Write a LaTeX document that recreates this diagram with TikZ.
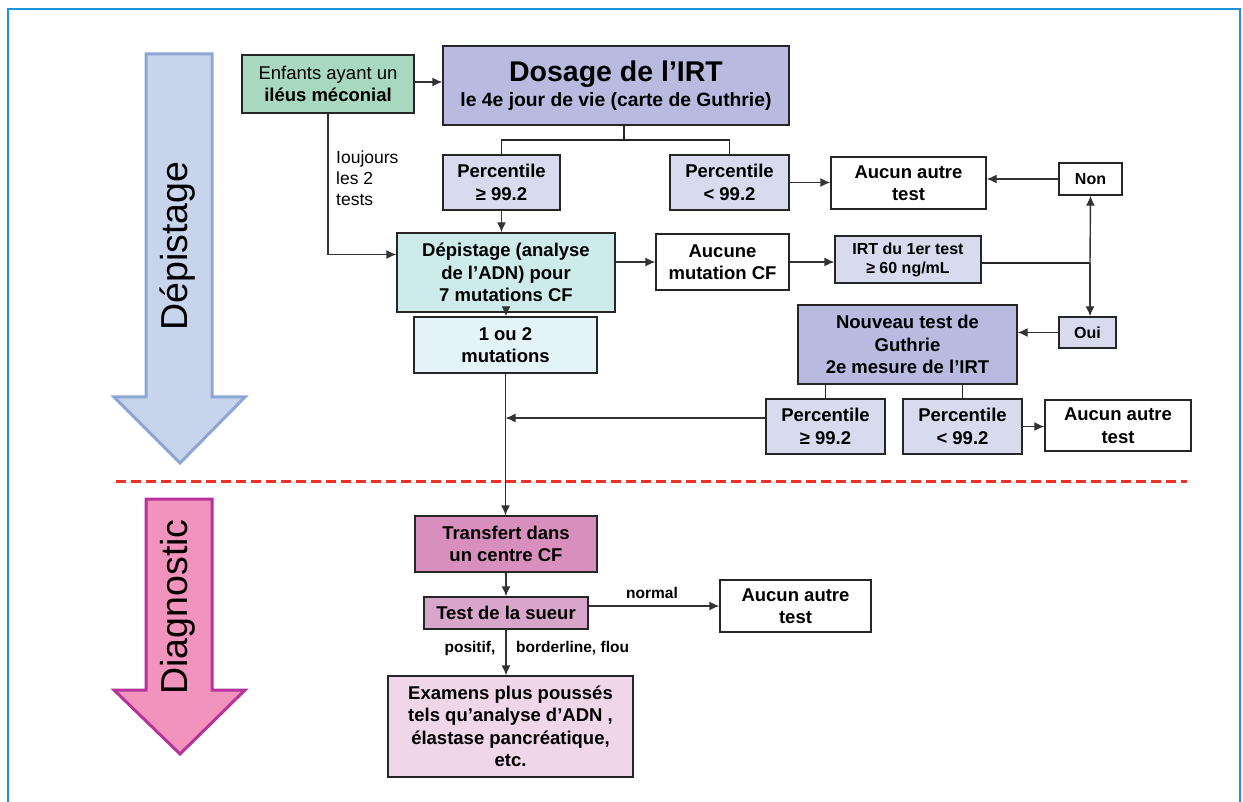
\documentclass[tikz,border=0pt]{standalone}
\usepackage{fontspec}
\setmainfont{Liberation Sans}
\usepackage{tikz}
\usepackage{xcolor}
\usetikzlibrary{calc,arrows.meta}

\definecolor{frameblue}{HTML}{2090D8}
\definecolor{vertenf}{HTML}{A8D8BE}
\definecolor{lavande}{HTML}{B8BADF}
\definecolor{lavclair}{HTML}{D8DAEE}
\definecolor{turquoise}{HTML}{CDEBEB}
\definecolor{cyanclair}{HTML}{E3F3F7}
\definecolor{rosefort}{HTML}{D88FBD}
\definecolor{rosemoyen}{HTML}{D8A5CB}
\definecolor{roseclair}{HTML}{EFD6E8}
\definecolor{bleuarrow}{HTML}{C8D4EC}
\definecolor{bleubord}{HTML}{8EA6D6}
\definecolor{rosearrow}{HTML}{F293BD}
\definecolor{rosebord}{HTML}{B5339A}
\definecolor{rouge}{HTML}{EE3124}

\newcommand{\txtbig}{\fontsize{28.5}{30}\selectfont\bfseries}
\newcommand{\txtbody}{\fontsize{18.5}{22.5}\selectfont\bfseries}
\newcommand{\txtsmall}{\fontsize{16}{19}\selectfont\bfseries}
\newcommand{\txtlabel}{\fontsize{15.5}{18}\selectfont\bfseries}

\begin{document}
\begin{tikzpicture}[x=1pt,y=-1pt,
    box/.style={draw=black!85,line width=1.4pt,inner sep=0pt,align=center,font=\txtbody},
    arr/.style={draw=black!80,line width=1.4pt,-{Latex[length=10pt,width=9pt]}},
    lien/.style={draw=black!85,line width=1.6pt}]
        \useasboundingbox (0,0) rectangle (1243,802);
        % frame
        \draw[frameblue,line width=2pt] (8,810) -- (8,9) -- (1240,9) -- (1240,810);
        % big arrows
        \draw[fill=bleuarrow,draw=bleubord,line width=3pt] (146,54) -- (212,54) -- (212,397) -- (245,397)
            -- (180,463) -- (114,397) -- (146,397) -- cycle;
        \draw[fill=rosearrow,draw=rosebord,line width=3pt] (146,499) -- (212,499) -- (212,690) -- (245,690)
            -- (180,754) -- (114,690) -- (146,690) -- cycle;
        \node[rotate=90,font=\fontsize{37.5}{40}\selectfont] (lbldep) at (178,246) {Dépistage};
        \node[rotate=90,font=\fontsize{37.5}{40}\selectfont] (lbldiag) at (178,607) {Diagnostic};
        \draw[rouge,line width=3pt,dash pattern=on 10pt off 5pt] (116,481) -- (1187,481);
        % boxes
        \node[box,fill=vertenf,minimum width=172,minimum height=58,font=\fontsize{18.5}{22.5}\selectfont] (enf) at (328,84)
            {Enfants ayant un\\\textbf{iléus méconial}};
        \node[box,fill=lavande,minimum width=346,minimum height=79] (irt) at (616,85.5)
            {{\txtbig Dosage de l’IRT}\\[3pt]{\fontsize{19.3}{22}\selectfont le 4e jour de vie (carte de Guthrie)}};
        \node[box,fill=lavclair,minimum width=117,minimum height=55] (p1) at (501.5,182.5) {Percentile\\≥ 99.2};
        \node[box,fill=lavclair,minimum width=119,minimum height=55] (p2) at (729.5,182.5) {Percentile\\< 99.2};
        \node[box,fill=white,minimum width=155,minimum height=52] (a1) at (908.5,183) {Aucun autre\\test};
        \node[box,fill=white,minimum width=63,minimum height=32,font=\txtsmall] (non) at (1090.5,179) {Non};
        \node[box,fill=turquoise,minimum width=218,minimum height=79] (dep) at (506,272.5)
            {Dépistage (analyse\\de l’ADN) pour\\7 mutations CF};
        \node[box,fill=white,minimum width=133,minimum height=56] (am) at (722.5,262) {Aucune\\mutation CF};
        \node[box,fill=lavclair,minimum width=146,minimum height=47,font=\txtsmall] (irt1) at (908,259.5)
            {IRT du 1er test\\≥ 60 ng/mL};
        \node[box,fill=lavclair,minimum width=57,minimum height=31,font=\txtsmall] (oui) at (1087.5,332.5) {Oui};
        \node[box,fill=lavande,minimum width=219,minimum height=79] (nouv) at (907.5,344.5)
            {Nouveau test de\\Guthrie\\2e mesure de l’IRT};
        \node[box,fill=cyanclair,minimum width=183,minimum height=56] (mut) at (505.5,345) {1 ou 2\\mutations};
        \node[box,fill=lavclair,minimum width=119,minimum height=55] (p3) at (825.5,426.5) {Percentile\\≥ 99.2};
        \node[box,fill=lavclair,minimum width=119,minimum height=55] (p4) at (962.5,426.5) {Percentile\\< 99.2};
        \node[box,fill=white,minimum width=146,minimum height=51] (a2) at (1118,425.5) {Aucun autre\\test};
        \node[box,fill=rosefort,minimum width=182,minimum height=56] (tr) at (506,544) {Transfert dans\\un centre CF};
        \node[box,fill=rosemoyen,minimum width=164,minimum height=32] (sue) at (506,613) {Test de la sueur};
        \node[box,fill=white,minimum width=151,minimum height=52] (a3) at (795.5,606) {Aucun autre\\test};
        \node[box,fill=roseclair,minimum width=245,minimum height=101] (exa) at (510.5,726.5)
            {Examens plus poussés\\tels qu’analyse d’ADN ,\\élastase pancréatique,\\etc.};
        % labels
        \node[anchor=west,align=left,inner sep=0pt,font=\fontsize{17.5}{21}\selectfont] (lbltous) at (336,178)
            {Ioujours\\les 2\\tests};
        \node[inner sep=0pt,font=\txtlabel] (lblnorm) at (652,593) {normal};
        \node[inner sep=0pt,font=\txtlabel] (lblpos) at (470,648) {positif,};
        \node[anchor=west,inner sep=0pt,font=\txtlabel] (lblbord) at (516,648) {borderline, flou};
        % connectors
        \coordinate (split) at (624,140);
        \coordinate (jn) at (1090,263);
        \draw[arr] (enf.east |- 0,82) -- (irt.west |- 0,82);
        \draw[lien] (split |- irt.south) -- (split);
        \draw[lien] (p1.north) |- (split) -| (p2.north);
        \draw[arr] (p2.east) -- (p2.east -| a1.west);
        \draw[arr] (non.west) -- (non.west -| a1.east);
        \draw[arr] (p1.south) -- (p1.south |- dep.north);
        \draw[arr] (enf.south) |- ($(dep.west)+(0,-18)$);
        \draw[arr] (dep.east |- am.west) -- (am.west);
        \draw[arr] (am.east) -- (am.east -| irt1.west);
        \draw[lien,line width=2.6pt] (irt1.east |- jn) -- (jn);
        \draw[arr] (jn) -- (non.south);
        \draw[arr] (jn) -- (jn |- oui.north);
        \draw[arr] (oui.west) -- (oui.west -| nouv.east);
        \draw[arr] (dep.south) -- (dep.south |- mut.north);
        \draw[lien] (nouv.south -| p3.north) -- (p3.north);
        \draw[lien] (nouv.south -| p4.north) -- (p4.north);
        \draw[arr] (p4.east) -- (p4.east -| a2.west);
        \draw[arr] ($(p3.west)+(0,-8.5)$) -- ($(mut.south |- p3.west)+(0,-8.5)$);
        \draw[arr] (mut.south) -- (mut.south |- tr.north);
        \draw[arr] (tr.south) -- (tr.south |- sue.north);
        \draw[arr] (sue.east |- a3.west) -- (a3.west);
        \draw[arr] (sue.south) -- (sue.south |- exa.north);
    \end{tikzpicture}
\end{document}
